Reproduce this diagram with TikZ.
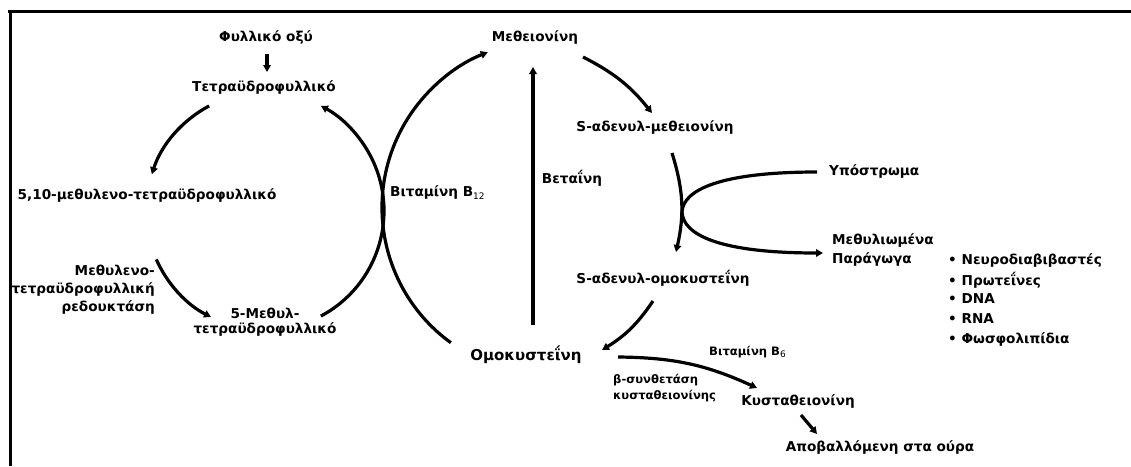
\documentclass[tikz,border=0pt]{standalone}
\usepackage{fontspec}
\setmainfont{DejaVu Sans}
\usetikzlibrary{arrows.meta,calc}
\newcommand{\lowidx}[1]{\raisebox{-0.4ex}{\mdseries\fontsize{9}{9}\selectfont #1}}
\tikzset{
  lbl/.style={font=\bfseries\fontsize{13.6}{15}\selectfont, inner sep=0pt},
  small/.style={font=\bfseries\fontsize{11.6}{16}\selectfont, inner sep=0pt},
  big/.style={font=\bfseries\fontsize{15}{16}\selectfont, inner sep=0pt},
  con/.style={line width=3.2pt, -{Triangle[length=7pt,width=7.5pt]}},
  frame/.style={line width=3pt}
}
\begin{document}
\begin{tikzpicture}[x=1pt,y=1pt]
\useasboundingbox (0,0) rectangle (1131,-466);
\fill[white] (0,0) rectangle (1131,-466);
% frame
\draw[frame] (8,-11) -- (1131,-11);
\draw[frame] (10,-10) -- (10,-466);

% nodes
\node[lbl] (fol) at (266,-37) {Φυλλικό οξύ};
\node[lbl] (thf) at (264,-87) {Τετραϋδροφυλλικό};
\node[lbl] (mthf) at (147,-195) {5,10-μεθυλενο-τετραϋδροφυλλικό};
\node[lbl, align=right, font=\bfseries\fontsize{13.6}{18}\selectfont, anchor=east] (mthfr) at (155,-290) {Μεθυλενο-\\τετραϋδροφυλλική\\ρεδουκτάση};
\node[lbl, align=center] (m5) at (265,-322) {5-Μεθυλ-\\τετραϋδροφυλλικό};
\node[lbl, anchor=west] (b12) at (390,-193) {Βιταμίνη B\lowidx{12}};
\node[lbl] (met) at (535,-37) {Μεθειονίνη};
\node[lbl] (bet) at (572,-178) {Βεταΐνη};
\node[lbl] (sam) at (655,-127) {S-αδενυλ-μεθειονίνη};
\node[lbl, anchor=west] (sub) at (829,-171) {Υπόστρωμα};
\node[lbl, align=left, anchor=west, font=\bfseries\fontsize{13.6}{19}\selectfont] (mprod) at (832,-250) {Μεθυλιωμένα\\Παράγωγα};
\node[lbl, anchor=west] (l1) at (948,-260) {• Νευροδιαβιβαστές};
\node[lbl, anchor=west] (l2) at (948,-280) {• Πρωτεΐνες};
\node[lbl, anchor=west] (l3) at (948,-299) {• DNA};
\node[lbl, anchor=west] (l4) at (948,-319) {• RNA};
\node[lbl, anchor=west] (l5) at (948,-339) {• Φωσφολιπίδια};
\node[lbl] (sah) at (663,-278) {S-αδενυλ-ομοκυστεΐνη};
\node[big] (hcy) at (526,-355) {Ομοκυστεΐνη};
\node[small, anchor=west] (b6) at (709,-352) {Βιταμίνη B\lowidx{6}};
\node[small, align=left, anchor=west] (cbs) at (613,-388) {β-συνθετάση\\κυσταθειονίνης};
\node[lbl] (cth) at (798,-401) {Κυσταθειονίνη};
\node[lbl] (uri) at (880,-447) {Αποβαλλόμενη στα ούρα};

% folate cycle (left circle)
\coordinate (C1) at (265,-211);
\coordinate (C2) at (549,-207.6);
\draw[con] ($(C1)+(118:119)$) arc[start angle=118, end angle=162, radius=119];
\draw[con] ($(C1)+(204:119)$) arc[start angle=204, end angle=243, radius=119];
\draw[con] ($(C1)+(-62:119)$) arc[start angle=-62, end angle=62, radius=119];
% methionine cycle (left arc)
\draw[con] ($(C2)+(234:167)$) arc[start angle=234, end angle=111.5, radius=167];

% connector ends
\coordinate (folS) at (267,-54);
\coordinate (thfN) at (267,-72);
\coordinate (hcyN) at (533,-325);
\coordinate (metS) at (533,-67);
\coordinate (metE) at (583,-57);
\coordinate (samN) at (652,-113);
\coordinate (sahS) at (653,-301);
\coordinate (hcyE) at (602,-350);
\coordinate (hcyR) at (618,-357);
\coordinate (cthN) at (757,-388);
\coordinate (cthS) at (801,-415);
\coordinate (uriN) at (817,-434);
\coordinate (vt) at (672,-153);
\coordinate (vb) at (676,-252);
\coordinate (bu) at (817,-172);
\coordinate (bl) at (823,-253);

\draw[con] (folS) -- (thfN);
\draw[con, line width=4pt] (hcyN) -- (metS);
\draw[con] (metE) to[bend left=12] (samN);
\draw[con] (sahS) to[bend left=12] (hcyE);
\draw[con] (hcyR) to[bend left=12] (cthN);
\draw[con] (cthS) -- (uriN);
\draw[con] (vt) to[bend left=15] (vb);
\draw[con] (bu) .. controls (720,-172) and (683,-190) .. (682,-212) .. controls (683,-235) and (720,-253) .. (bl);
\end{tikzpicture}
\end{document}
